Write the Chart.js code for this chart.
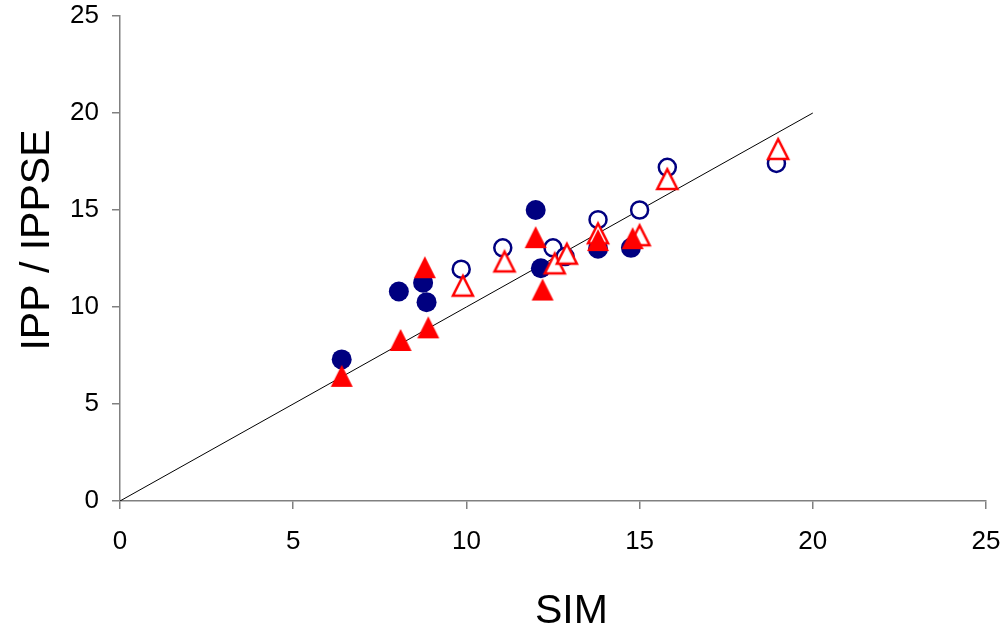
<!DOCTYPE html>
<html>
<head>
<meta charset="utf-8">
<script src="https://cdn.jsdelivr.net/npm/chart.js@4.4.1/dist/chart.umd.min.js"></script>
<style>
  html, body { margin: 0; padding: 0; background: #fff; }
  #wrap { width: 1005px; height: 633px; }
</style>
</head>
<body>
<div id="wrap"><canvas id="myChart" width="1005" height="633"></canvas></div>
<script>
// SIM values and the matching IPP / IPPSE results, four marker series
const ippSimX    = [6.4, 8.05, 8.75, 8.85, 12.0, 12.15, 13.8, 14.75];
const ippSimY    = [7.3, 10.8, 11.25, 10.25, 15.0, 12.0, 13.0, 13.05];
const ippOpenX   = [9.85, 11.05, 12.5, 12.85, 13.8, 15.0, 15.8, 18.95];
const ippOpenY   = [11.95, 13.05, 13.05, 12.6, 14.5, 15.0, 17.2, 17.4];
const ippseX     = [6.4, 8.1, 8.8, 8.9, 12.0, 12.2, 13.8, 14.8];
const ippseY     = [6.45, 8.3, 12.05, 8.95, 13.6, 10.9, 13.45, 13.55];
const ippseOpenX = [9.9, 11.1, 12.55, 12.9, 13.8, 15.0, 15.8, 19.0];
const ippseOpenY = [11.1, 12.35, 12.25, 12.75, 13.8, 13.7, 16.6, 18.15];

// 1:1 reference line
const lineX = [0, 20];
const lineY = [0, 20];

const tickValues = [0, 5, 10, 15, 20, 25];

const navy = '#000080';
const red = '#ff0000';
const axisGray = '#808080';

function toPoints(xs, ys) {
    return xs.map((x, i) => ({ x: x, y: ys[i] }));
}

// triangle marker drawn on its own canvas so it can be a little taller than equilateral
function triangleMarker(filled) {
    const c = document.createElement('canvas');
    c.width = 26;
    c.height = 26;
    const g = c.getContext('2d');
    g.beginPath();
    if (filled) {
        g.moveTo(13, 2);
        g.lineTo(24, 24);
        g.lineTo(2, 24);
        g.closePath();
        g.fillStyle = red;
        g.fill();
    } else {
        g.moveTo(13, 3.2);
        g.lineTo(23, 23);
        g.lineTo(3, 23);
        g.closePath();
        g.fillStyle = '#fff';
        g.fill();
        g.lineWidth = 2.5;
        g.lineJoin = 'miter';
        g.strokeStyle = red;
        g.stroke();
    }
    return c;
}

// keep the plot area fixed: no extra room reserved for the end tick labels
function fixAxis(size) {
    return (axis) => {
        if (axis.isHorizontal()) axis.height = size;
        else axis.width = size;
        axis.paddingTop = 0;
        axis.paddingBottom = 0;
        axis.paddingLeft = 0;
        axis.paddingRight = 0;
    };
}

Chart.defaults.font.family = "'Liberation Sans', Arial, sans-serif";
Chart.defaults.color = '#000';

const tickFont = { size: 26 };
const titleFont = { size: 41, lineHeight: 1 };

new Chart('myChart', {
    type: 'scatter',
    data: {
        datasets: [
            {
                label: 'IPPSE',
                data: toPoints(ippseX, ippseY),
                pointStyle: triangleMarker(true),
                pointRadius: 11,
                order: 1
            },
            {
                label: 'IPPSE (open)',
                data: toPoints(ippseOpenX, ippseOpenY),
                pointStyle: triangleMarker(false),
                pointRadius: 11,
                order: 2
            },
            {
                label: 'IPP',
                data: toPoints(ippSimX, ippSimY),
                pointStyle: 'circle',
                pointRadius: 10,
                backgroundColor: navy,
                borderColor: navy,
                borderWidth: 0,
                order: 3
            },
            {
                label: 'IPP (open)',
                data: toPoints(ippOpenX, ippOpenY),
                pointStyle: 'circle',
                pointRadius: 8.5,
                backgroundColor: '#fff',
                borderColor: navy,
                borderWidth: 2.5,
                order: 4
            },
            {
                type: 'line',
                label: '1:1',
                data: toPoints(lineX, lineY),
                borderColor: '#000',
                borderWidth: 1,
                pointRadius: 0,
                showLine: true,
                order: 5
            }
        ]
    },
    options: {
        responsive: false,
        animation: false,
        layout: { padding: { top: 16, right: 19, left: 0, bottom: 0 } },
        plugins: {
            legend: { display: false },
            tooltip: { enabled: false }
        },
        scales: {
            x: {
                type: 'linear',
                min: 0,
                max: 25,
                afterBuildTicks: (axis) => { axis.ticks = tickValues.map(v => ({ value: v })); },
                afterFit: fixAxis(132),
                ticks: { font: tickFont, padding: 17, maxRotation: 0 },
                grid: { drawOnChartArea: false, drawTicks: true, tickLength: 8, color: axisGray, lineWidth: 1.5 },
                border: { color: axisGray, width: 1.5 },
                // leading spacing nudges the title right of the axis middle
                title: { display: true, text: '\u2002\u2009\u2009SIM', font: titleFont, padding: { top: 0, bottom: 1 } }
            },
            y: {
                type: 'linear',
                min: 0,
                max: 25,
                afterBuildTicks: (axis) => { axis.ticks = tickValues.map(v => ({ value: v })); },
                afterFit: fixAxis(120),
                ticks: { font: tickFont, padding: 13 },
                grid: { drawOnChartArea: false, drawTicks: true, tickLength: 8, color: axisGray, lineWidth: 1.5 },
                border: { color: axisGray, width: 1.5 },
                // leading spacing lifts the rotated title a little above the axis middle
                title: { display: true, text: '\u2002\u2009\u2009IPP / IPPSE', font: titleFont, padding: { top: 17, bottom: 0 } }
            }
        }
    }
});
</script>
</body>
</html>
